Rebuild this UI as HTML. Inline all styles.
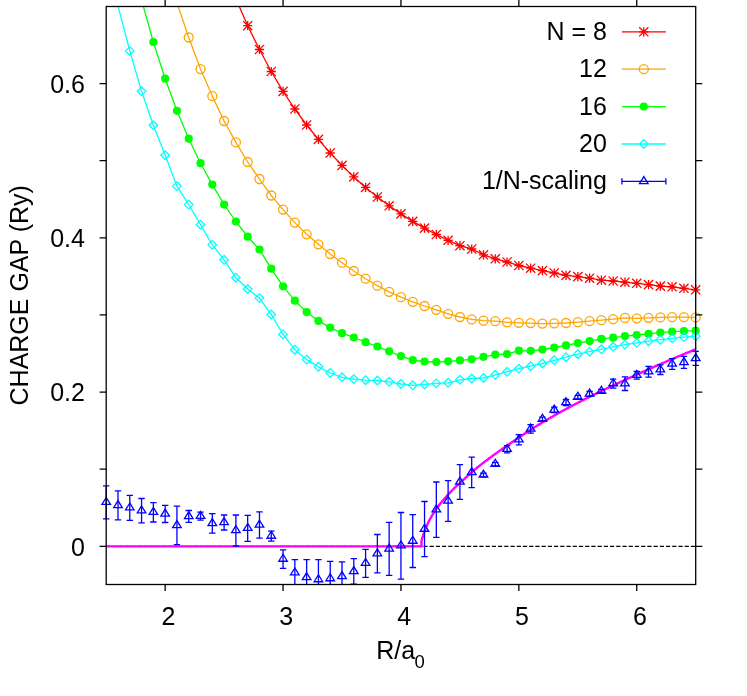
<!DOCTYPE html>
<html><head><meta charset="utf-8"><title>Charge gap</title>
<style>
html,body{margin:0;padding:0;background:#fff;}
body{width:747px;height:696px;overflow:hidden;}
svg{display:block;will-change:transform;}
text{font-family:"Liberation Sans",sans-serif;fill:#000;}
</style></head><body>
<svg width="747" height="696" viewBox="0 0 747 696">
<rect x="0" y="0" width="747" height="696" fill="#fff"/>
<defs><clipPath id="c"><rect x="106.2" y="6.5" width="589.5" height="578"/></clipPath></defs>
<line x1="106.2" y1="546.37" x2="695.7" y2="546.37" stroke="#000" stroke-width="1.3" stroke-dasharray="4.2 2.02"/>
<polyline clip-path="url(#c)" points="235.89,-1.3 247.68,25.7 259.47,49.5 271.26,71.5 283.05,91.4 294.84,109 306.63,125 318.42,139.4 330.21,153 342,165.4 353.79,176.9 365.58,187.4 377.37,197 389.16,205.8 400.95,213.9 412.74,221.4 424.53,228.1 436.32,234.5 448.11,240.3 459.9,245.7 471.69,249 483.48,254.8 495.27,258.8 507.06,262 518.85,265.5 530.64,268.2 542.43,270.6 554.22,273 566.01,275.4 577.8,276.6 589.59,278.2 601.38,280.2 613.17,281 624.96,282.2 636.75,283.3 648.54,284.6 660.33,286.1 672.12,286.8 683.91,288.3 695.7,289.8" fill="none" stroke="#ff0000" stroke-width="1.3" stroke-linejoin="round"/>
<path d="M243.08 25.7h9.2M247.68 21.1v9.2M243.08 21.1l9.2 9.2M243.08 30.3l9.2 -9.2" stroke="#ff0000" stroke-width="1.3" fill="none"/>
<path d="M254.87 49.5h9.2M259.47 44.9v9.2M254.87 44.9l9.2 9.2M254.87 54.1l9.2 -9.2" stroke="#ff0000" stroke-width="1.3" fill="none"/>
<path d="M266.66 71.5h9.2M271.26 66.9v9.2M266.66 66.9l9.2 9.2M266.66 76.1l9.2 -9.2" stroke="#ff0000" stroke-width="1.3" fill="none"/>
<path d="M278.45 91.4h9.2M283.05 86.8v9.2M278.45 86.8l9.2 9.2M278.45 96l9.2 -9.2" stroke="#ff0000" stroke-width="1.3" fill="none"/>
<path d="M290.24 109h9.2M294.84 104.4v9.2M290.24 104.4l9.2 9.2M290.24 113.6l9.2 -9.2" stroke="#ff0000" stroke-width="1.3" fill="none"/>
<path d="M302.03 125h9.2M306.63 120.4v9.2M302.03 120.4l9.2 9.2M302.03 129.6l9.2 -9.2" stroke="#ff0000" stroke-width="1.3" fill="none"/>
<path d="M313.82 139.4h9.2M318.42 134.8v9.2M313.82 134.8l9.2 9.2M313.82 144l9.2 -9.2" stroke="#ff0000" stroke-width="1.3" fill="none"/>
<path d="M325.61 153h9.2M330.21 148.4v9.2M325.61 148.4l9.2 9.2M325.61 157.6l9.2 -9.2" stroke="#ff0000" stroke-width="1.3" fill="none"/>
<path d="M337.4 165.4h9.2M342 160.8v9.2M337.4 160.8l9.2 9.2M337.4 170l9.2 -9.2" stroke="#ff0000" stroke-width="1.3" fill="none"/>
<path d="M349.19 176.9h9.2M353.79 172.3v9.2M349.19 172.3l9.2 9.2M349.19 181.5l9.2 -9.2" stroke="#ff0000" stroke-width="1.3" fill="none"/>
<path d="M360.98 187.4h9.2M365.58 182.8v9.2M360.98 182.8l9.2 9.2M360.98 192l9.2 -9.2" stroke="#ff0000" stroke-width="1.3" fill="none"/>
<path d="M372.77 197h9.2M377.37 192.4v9.2M372.77 192.4l9.2 9.2M372.77 201.6l9.2 -9.2" stroke="#ff0000" stroke-width="1.3" fill="none"/>
<path d="M384.56 205.8h9.2M389.16 201.2v9.2M384.56 201.2l9.2 9.2M384.56 210.4l9.2 -9.2" stroke="#ff0000" stroke-width="1.3" fill="none"/>
<path d="M396.35 213.9h9.2M400.95 209.3v9.2M396.35 209.3l9.2 9.2M396.35 218.5l9.2 -9.2" stroke="#ff0000" stroke-width="1.3" fill="none"/>
<path d="M408.14 221.4h9.2M412.74 216.8v9.2M408.14 216.8l9.2 9.2M408.14 226l9.2 -9.2" stroke="#ff0000" stroke-width="1.3" fill="none"/>
<path d="M419.93 228.1h9.2M424.53 223.5v9.2M419.93 223.5l9.2 9.2M419.93 232.7l9.2 -9.2" stroke="#ff0000" stroke-width="1.3" fill="none"/>
<path d="M431.72 234.5h9.2M436.32 229.9v9.2M431.72 229.9l9.2 9.2M431.72 239.1l9.2 -9.2" stroke="#ff0000" stroke-width="1.3" fill="none"/>
<path d="M443.51 240.3h9.2M448.11 235.7v9.2M443.51 235.7l9.2 9.2M443.51 244.9l9.2 -9.2" stroke="#ff0000" stroke-width="1.3" fill="none"/>
<path d="M455.3 245.7h9.2M459.9 241.1v9.2M455.3 241.1l9.2 9.2M455.3 250.3l9.2 -9.2" stroke="#ff0000" stroke-width="1.3" fill="none"/>
<path d="M467.09 249h9.2M471.69 244.4v9.2M467.09 244.4l9.2 9.2M467.09 253.6l9.2 -9.2" stroke="#ff0000" stroke-width="1.3" fill="none"/>
<path d="M478.88 254.8h9.2M483.48 250.2v9.2M478.88 250.2l9.2 9.2M478.88 259.4l9.2 -9.2" stroke="#ff0000" stroke-width="1.3" fill="none"/>
<path d="M490.67 258.8h9.2M495.27 254.2v9.2M490.67 254.2l9.2 9.2M490.67 263.4l9.2 -9.2" stroke="#ff0000" stroke-width="1.3" fill="none"/>
<path d="M502.46 262h9.2M507.06 257.4v9.2M502.46 257.4l9.2 9.2M502.46 266.6l9.2 -9.2" stroke="#ff0000" stroke-width="1.3" fill="none"/>
<path d="M514.25 265.5h9.2M518.85 260.9v9.2M514.25 260.9l9.2 9.2M514.25 270.1l9.2 -9.2" stroke="#ff0000" stroke-width="1.3" fill="none"/>
<path d="M526.04 268.2h9.2M530.64 263.6v9.2M526.04 263.6l9.2 9.2M526.04 272.8l9.2 -9.2" stroke="#ff0000" stroke-width="1.3" fill="none"/>
<path d="M537.83 270.6h9.2M542.43 266v9.2M537.83 266l9.2 9.2M537.83 275.2l9.2 -9.2" stroke="#ff0000" stroke-width="1.3" fill="none"/>
<path d="M549.62 273h9.2M554.22 268.4v9.2M549.62 268.4l9.2 9.2M549.62 277.6l9.2 -9.2" stroke="#ff0000" stroke-width="1.3" fill="none"/>
<path d="M561.41 275.4h9.2M566.01 270.8v9.2M561.41 270.8l9.2 9.2M561.41 280l9.2 -9.2" stroke="#ff0000" stroke-width="1.3" fill="none"/>
<path d="M573.2 276.6h9.2M577.8 272v9.2M573.2 272l9.2 9.2M573.2 281.2l9.2 -9.2" stroke="#ff0000" stroke-width="1.3" fill="none"/>
<path d="M584.99 278.2h9.2M589.59 273.6v9.2M584.99 273.6l9.2 9.2M584.99 282.8l9.2 -9.2" stroke="#ff0000" stroke-width="1.3" fill="none"/>
<path d="M596.78 280.2h9.2M601.38 275.6v9.2M596.78 275.6l9.2 9.2M596.78 284.8l9.2 -9.2" stroke="#ff0000" stroke-width="1.3" fill="none"/>
<path d="M608.57 281h9.2M613.17 276.4v9.2M608.57 276.4l9.2 9.2M608.57 285.6l9.2 -9.2" stroke="#ff0000" stroke-width="1.3" fill="none"/>
<path d="M620.36 282.2h9.2M624.96 277.6v9.2M620.36 277.6l9.2 9.2M620.36 286.8l9.2 -9.2" stroke="#ff0000" stroke-width="1.3" fill="none"/>
<path d="M632.15 283.3h9.2M636.75 278.7v9.2M632.15 278.7l9.2 9.2M632.15 287.9l9.2 -9.2" stroke="#ff0000" stroke-width="1.3" fill="none"/>
<path d="M643.94 284.6h9.2M648.54 280v9.2M643.94 280l9.2 9.2M643.94 289.2l9.2 -9.2" stroke="#ff0000" stroke-width="1.3" fill="none"/>
<path d="M655.73 286.1h9.2M660.33 281.5v9.2M655.73 281.5l9.2 9.2M655.73 290.7l9.2 -9.2" stroke="#ff0000" stroke-width="1.3" fill="none"/>
<path d="M667.52 286.8h9.2M672.12 282.2v9.2M667.52 282.2l9.2 9.2M667.52 291.4l9.2 -9.2" stroke="#ff0000" stroke-width="1.3" fill="none"/>
<path d="M679.31 288.3h9.2M683.91 283.7v9.2M679.31 283.7l9.2 9.2M679.31 292.9l9.2 -9.2" stroke="#ff0000" stroke-width="1.3" fill="none"/>
<path d="M691.1 289.8h9.2M695.7 285.2v9.2M691.1 285.2l9.2 9.2M691.1 294.4l9.2 -9.2" stroke="#ff0000" stroke-width="1.3" fill="none"/>
<polyline clip-path="url(#c)" points="176.94,2.7 188.73,37.5 200.52,69.1 212.31,96.1 224.1,121 235.89,142.4 247.68,162 259.47,179 271.26,195.5 283.05,209.6 294.84,222.6 306.63,234.3 318.42,244.3 330.21,254 342,262.7 353.79,271 365.58,278.7 377.37,285.7 389.16,291.8 400.95,297.2 412.74,301.8 424.53,306 436.32,309.8 448.11,313.8 459.9,317 471.69,319.4 483.48,320.7 495.27,321.2 507.06,322.3 518.85,322.8 530.64,323.1 542.43,323.6 554.22,323.3 566.01,323 577.8,322.2 589.59,321.2 601.38,320.2 613.17,319.2 624.96,317.9 636.75,318.3 648.54,317.8 660.33,317.4 672.12,317.2 683.91,317.2 695.7,317.4" fill="none" stroke="#ffa500" stroke-width="1.3" stroke-linejoin="round"/>
<circle cx="188.73" cy="37.5" r="4.5" stroke="#ffa500" stroke-width="1.3" fill="none"/>
<circle cx="200.52" cy="69.1" r="4.5" stroke="#ffa500" stroke-width="1.3" fill="none"/>
<circle cx="212.31" cy="96.1" r="4.5" stroke="#ffa500" stroke-width="1.3" fill="none"/>
<circle cx="224.1" cy="121" r="4.5" stroke="#ffa500" stroke-width="1.3" fill="none"/>
<circle cx="235.89" cy="142.4" r="4.5" stroke="#ffa500" stroke-width="1.3" fill="none"/>
<circle cx="247.68" cy="162" r="4.5" stroke="#ffa500" stroke-width="1.3" fill="none"/>
<circle cx="259.47" cy="179" r="4.5" stroke="#ffa500" stroke-width="1.3" fill="none"/>
<circle cx="271.26" cy="195.5" r="4.5" stroke="#ffa500" stroke-width="1.3" fill="none"/>
<circle cx="283.05" cy="209.6" r="4.5" stroke="#ffa500" stroke-width="1.3" fill="none"/>
<circle cx="294.84" cy="222.6" r="4.5" stroke="#ffa500" stroke-width="1.3" fill="none"/>
<circle cx="306.63" cy="234.3" r="4.5" stroke="#ffa500" stroke-width="1.3" fill="none"/>
<circle cx="318.42" cy="244.3" r="4.5" stroke="#ffa500" stroke-width="1.3" fill="none"/>
<circle cx="330.21" cy="254" r="4.5" stroke="#ffa500" stroke-width="1.3" fill="none"/>
<circle cx="342" cy="262.7" r="4.5" stroke="#ffa500" stroke-width="1.3" fill="none"/>
<circle cx="353.79" cy="271" r="4.5" stroke="#ffa500" stroke-width="1.3" fill="none"/>
<circle cx="365.58" cy="278.7" r="4.5" stroke="#ffa500" stroke-width="1.3" fill="none"/>
<circle cx="377.37" cy="285.7" r="4.5" stroke="#ffa500" stroke-width="1.3" fill="none"/>
<circle cx="389.16" cy="291.8" r="4.5" stroke="#ffa500" stroke-width="1.3" fill="none"/>
<circle cx="400.95" cy="297.2" r="4.5" stroke="#ffa500" stroke-width="1.3" fill="none"/>
<circle cx="412.74" cy="301.8" r="4.5" stroke="#ffa500" stroke-width="1.3" fill="none"/>
<circle cx="424.53" cy="306" r="4.5" stroke="#ffa500" stroke-width="1.3" fill="none"/>
<circle cx="436.32" cy="309.8" r="4.5" stroke="#ffa500" stroke-width="1.3" fill="none"/>
<circle cx="448.11" cy="313.8" r="4.5" stroke="#ffa500" stroke-width="1.3" fill="none"/>
<circle cx="459.9" cy="317" r="4.5" stroke="#ffa500" stroke-width="1.3" fill="none"/>
<circle cx="471.69" cy="319.4" r="4.5" stroke="#ffa500" stroke-width="1.3" fill="none"/>
<circle cx="483.48" cy="320.7" r="4.5" stroke="#ffa500" stroke-width="1.3" fill="none"/>
<circle cx="495.27" cy="321.2" r="4.5" stroke="#ffa500" stroke-width="1.3" fill="none"/>
<circle cx="507.06" cy="322.3" r="4.5" stroke="#ffa500" stroke-width="1.3" fill="none"/>
<circle cx="518.85" cy="322.8" r="4.5" stroke="#ffa500" stroke-width="1.3" fill="none"/>
<circle cx="530.64" cy="323.1" r="4.5" stroke="#ffa500" stroke-width="1.3" fill="none"/>
<circle cx="542.43" cy="323.6" r="4.5" stroke="#ffa500" stroke-width="1.3" fill="none"/>
<circle cx="554.22" cy="323.3" r="4.5" stroke="#ffa500" stroke-width="1.3" fill="none"/>
<circle cx="566.01" cy="323" r="4.5" stroke="#ffa500" stroke-width="1.3" fill="none"/>
<circle cx="577.8" cy="322.2" r="4.5" stroke="#ffa500" stroke-width="1.3" fill="none"/>
<circle cx="589.59" cy="321.2" r="4.5" stroke="#ffa500" stroke-width="1.3" fill="none"/>
<circle cx="601.38" cy="320.2" r="4.5" stroke="#ffa500" stroke-width="1.3" fill="none"/>
<circle cx="613.17" cy="319.2" r="4.5" stroke="#ffa500" stroke-width="1.3" fill="none"/>
<circle cx="624.96" cy="317.9" r="4.5" stroke="#ffa500" stroke-width="1.3" fill="none"/>
<circle cx="636.75" cy="318.3" r="4.5" stroke="#ffa500" stroke-width="1.3" fill="none"/>
<circle cx="648.54" cy="317.8" r="4.5" stroke="#ffa500" stroke-width="1.3" fill="none"/>
<circle cx="660.33" cy="317.4" r="4.5" stroke="#ffa500" stroke-width="1.3" fill="none"/>
<circle cx="672.12" cy="317.2" r="4.5" stroke="#ffa500" stroke-width="1.3" fill="none"/>
<circle cx="683.91" cy="317.2" r="4.5" stroke="#ffa500" stroke-width="1.3" fill="none"/>
<circle cx="695.7" cy="317.4" r="4.5" stroke="#ffa500" stroke-width="1.3" fill="none"/>
<polyline clip-path="url(#c)" points="141.57,0 153.36,42 165.15,78.7 176.94,110.8 188.73,138.7 200.52,163.2 212.31,184.6 224.1,204.6 235.89,221.5 247.68,236.7 259.47,249.6 271.26,268.7 283.05,286.3 294.84,300.7 306.63,312.1 318.42,320.9 330.21,327.6 342,333.2 353.79,337.5 365.58,342.2 377.37,346.5 389.16,351.3 400.95,356.1 412.74,360.1 424.53,361.5 436.32,362 448.11,361.3 459.9,360.4 471.69,359.3 483.48,356.8 495.27,354.7 507.06,354 518.85,350.7 530.64,350.8 542.43,349.5 554.22,347.5 566.01,345.4 577.8,343 589.59,341.1 601.38,338.9 613.17,337.7 624.96,336.1 636.75,335 648.54,333.9 660.33,332.6 672.12,331.7 683.91,331.1 695.7,330.7" fill="none" stroke="#00ff00" stroke-width="1.3" stroke-linejoin="round"/>
<circle cx="153.36" cy="42" r="4.1" fill="#00ff00"/>
<circle cx="165.15" cy="78.7" r="4.1" fill="#00ff00"/>
<circle cx="176.94" cy="110.8" r="4.1" fill="#00ff00"/>
<circle cx="188.73" cy="138.7" r="4.1" fill="#00ff00"/>
<circle cx="200.52" cy="163.2" r="4.1" fill="#00ff00"/>
<circle cx="212.31" cy="184.6" r="4.1" fill="#00ff00"/>
<circle cx="224.1" cy="204.6" r="4.1" fill="#00ff00"/>
<circle cx="235.89" cy="221.5" r="4.1" fill="#00ff00"/>
<circle cx="247.68" cy="236.7" r="4.1" fill="#00ff00"/>
<circle cx="259.47" cy="249.6" r="4.1" fill="#00ff00"/>
<circle cx="271.26" cy="268.7" r="4.1" fill="#00ff00"/>
<circle cx="283.05" cy="286.3" r="4.1" fill="#00ff00"/>
<circle cx="294.84" cy="300.7" r="4.1" fill="#00ff00"/>
<circle cx="306.63" cy="312.1" r="4.1" fill="#00ff00"/>
<circle cx="318.42" cy="320.9" r="4.1" fill="#00ff00"/>
<circle cx="330.21" cy="327.6" r="4.1" fill="#00ff00"/>
<circle cx="342" cy="333.2" r="4.1" fill="#00ff00"/>
<circle cx="353.79" cy="337.5" r="4.1" fill="#00ff00"/>
<circle cx="365.58" cy="342.2" r="4.1" fill="#00ff00"/>
<circle cx="377.37" cy="346.5" r="4.1" fill="#00ff00"/>
<circle cx="389.16" cy="351.3" r="4.1" fill="#00ff00"/>
<circle cx="400.95" cy="356.1" r="4.1" fill="#00ff00"/>
<circle cx="412.74" cy="360.1" r="4.1" fill="#00ff00"/>
<circle cx="424.53" cy="361.5" r="4.1" fill="#00ff00"/>
<circle cx="436.32" cy="362" r="4.1" fill="#00ff00"/>
<circle cx="448.11" cy="361.3" r="4.1" fill="#00ff00"/>
<circle cx="459.9" cy="360.4" r="4.1" fill="#00ff00"/>
<circle cx="471.69" cy="359.3" r="4.1" fill="#00ff00"/>
<circle cx="483.48" cy="356.8" r="4.1" fill="#00ff00"/>
<circle cx="495.27" cy="354.7" r="4.1" fill="#00ff00"/>
<circle cx="507.06" cy="354" r="4.1" fill="#00ff00"/>
<circle cx="518.85" cy="350.7" r="4.1" fill="#00ff00"/>
<circle cx="530.64" cy="350.8" r="4.1" fill="#00ff00"/>
<circle cx="542.43" cy="349.5" r="4.1" fill="#00ff00"/>
<circle cx="554.22" cy="347.5" r="4.1" fill="#00ff00"/>
<circle cx="566.01" cy="345.4" r="4.1" fill="#00ff00"/>
<circle cx="577.8" cy="343" r="4.1" fill="#00ff00"/>
<circle cx="589.59" cy="341.1" r="4.1" fill="#00ff00"/>
<circle cx="601.38" cy="338.9" r="4.1" fill="#00ff00"/>
<circle cx="613.17" cy="337.7" r="4.1" fill="#00ff00"/>
<circle cx="624.96" cy="336.1" r="4.1" fill="#00ff00"/>
<circle cx="636.75" cy="335" r="4.1" fill="#00ff00"/>
<circle cx="648.54" cy="333.9" r="4.1" fill="#00ff00"/>
<circle cx="660.33" cy="332.6" r="4.1" fill="#00ff00"/>
<circle cx="672.12" cy="331.7" r="4.1" fill="#00ff00"/>
<circle cx="683.91" cy="331.1" r="4.1" fill="#00ff00"/>
<circle cx="695.7" cy="330.7" r="4.1" fill="#00ff00"/>
<polyline clip-path="url(#c)" points="106.2,-45 117.99,5.7 129.78,50.9 141.57,91.3 153.36,125.3 165.15,155.2 176.94,186.1 188.73,204.6 200.52,224.7 212.31,244.8 224.1,259.8 235.89,277.7 247.68,289 259.47,298.1 271.26,314.5 283.05,334.4 294.84,349.7 306.63,359.6 318.42,366.8 330.21,373 342,377.3 353.79,379.1 365.58,380.2 377.37,380.5 389.16,381.8 400.95,384 412.74,385.3 424.53,384.5 436.32,383.4 448.11,382.8 459.9,379.8 471.69,378.5 483.48,378 495.27,374.8 507.06,371.8 518.85,368.6 530.64,366.2 542.43,363.5 554.22,360.3 566.01,357.2 577.8,354.2 589.59,351.7 601.38,349.3 613.17,346.8 624.96,344.6 636.75,342.9 648.54,341.2 660.33,339.7 672.12,338.4 683.91,337.1 695.7,336.2" fill="none" stroke="#00ffff" stroke-width="1.3" stroke-linejoin="round"/>
<path d="M129.78 46.6l4.3 4.3l-4.3 4.3l-4.3 -4.3z" stroke="#00ffff" stroke-width="1.3" fill="none"/>
<path d="M141.57 87l4.3 4.3l-4.3 4.3l-4.3 -4.3z" stroke="#00ffff" stroke-width="1.3" fill="none"/>
<path d="M153.36 121l4.3 4.3l-4.3 4.3l-4.3 -4.3z" stroke="#00ffff" stroke-width="1.3" fill="none"/>
<path d="M165.15 150.9l4.3 4.3l-4.3 4.3l-4.3 -4.3z" stroke="#00ffff" stroke-width="1.3" fill="none"/>
<path d="M176.94 181.8l4.3 4.3l-4.3 4.3l-4.3 -4.3z" stroke="#00ffff" stroke-width="1.3" fill="none"/>
<path d="M188.73 200.3l4.3 4.3l-4.3 4.3l-4.3 -4.3z" stroke="#00ffff" stroke-width="1.3" fill="none"/>
<path d="M200.52 220.4l4.3 4.3l-4.3 4.3l-4.3 -4.3z" stroke="#00ffff" stroke-width="1.3" fill="none"/>
<path d="M212.31 240.5l4.3 4.3l-4.3 4.3l-4.3 -4.3z" stroke="#00ffff" stroke-width="1.3" fill="none"/>
<path d="M224.1 255.5l4.3 4.3l-4.3 4.3l-4.3 -4.3z" stroke="#00ffff" stroke-width="1.3" fill="none"/>
<path d="M235.89 273.4l4.3 4.3l-4.3 4.3l-4.3 -4.3z" stroke="#00ffff" stroke-width="1.3" fill="none"/>
<path d="M247.68 284.7l4.3 4.3l-4.3 4.3l-4.3 -4.3z" stroke="#00ffff" stroke-width="1.3" fill="none"/>
<path d="M259.47 293.8l4.3 4.3l-4.3 4.3l-4.3 -4.3z" stroke="#00ffff" stroke-width="1.3" fill="none"/>
<path d="M271.26 310.2l4.3 4.3l-4.3 4.3l-4.3 -4.3z" stroke="#00ffff" stroke-width="1.3" fill="none"/>
<path d="M283.05 330.1l4.3 4.3l-4.3 4.3l-4.3 -4.3z" stroke="#00ffff" stroke-width="1.3" fill="none"/>
<path d="M294.84 345.4l4.3 4.3l-4.3 4.3l-4.3 -4.3z" stroke="#00ffff" stroke-width="1.3" fill="none"/>
<path d="M306.63 355.3l4.3 4.3l-4.3 4.3l-4.3 -4.3z" stroke="#00ffff" stroke-width="1.3" fill="none"/>
<path d="M318.42 362.5l4.3 4.3l-4.3 4.3l-4.3 -4.3z" stroke="#00ffff" stroke-width="1.3" fill="none"/>
<path d="M330.21 368.7l4.3 4.3l-4.3 4.3l-4.3 -4.3z" stroke="#00ffff" stroke-width="1.3" fill="none"/>
<path d="M342 373l4.3 4.3l-4.3 4.3l-4.3 -4.3z" stroke="#00ffff" stroke-width="1.3" fill="none"/>
<path d="M353.79 374.8l4.3 4.3l-4.3 4.3l-4.3 -4.3z" stroke="#00ffff" stroke-width="1.3" fill="none"/>
<path d="M365.58 375.9l4.3 4.3l-4.3 4.3l-4.3 -4.3z" stroke="#00ffff" stroke-width="1.3" fill="none"/>
<path d="M377.37 376.2l4.3 4.3l-4.3 4.3l-4.3 -4.3z" stroke="#00ffff" stroke-width="1.3" fill="none"/>
<path d="M389.16 377.5l4.3 4.3l-4.3 4.3l-4.3 -4.3z" stroke="#00ffff" stroke-width="1.3" fill="none"/>
<path d="M400.95 379.7l4.3 4.3l-4.3 4.3l-4.3 -4.3z" stroke="#00ffff" stroke-width="1.3" fill="none"/>
<path d="M412.74 381l4.3 4.3l-4.3 4.3l-4.3 -4.3z" stroke="#00ffff" stroke-width="1.3" fill="none"/>
<path d="M424.53 380.2l4.3 4.3l-4.3 4.3l-4.3 -4.3z" stroke="#00ffff" stroke-width="1.3" fill="none"/>
<path d="M436.32 379.1l4.3 4.3l-4.3 4.3l-4.3 -4.3z" stroke="#00ffff" stroke-width="1.3" fill="none"/>
<path d="M448.11 378.5l4.3 4.3l-4.3 4.3l-4.3 -4.3z" stroke="#00ffff" stroke-width="1.3" fill="none"/>
<path d="M459.9 375.5l4.3 4.3l-4.3 4.3l-4.3 -4.3z" stroke="#00ffff" stroke-width="1.3" fill="none"/>
<path d="M471.69 374.2l4.3 4.3l-4.3 4.3l-4.3 -4.3z" stroke="#00ffff" stroke-width="1.3" fill="none"/>
<path d="M483.48 373.7l4.3 4.3l-4.3 4.3l-4.3 -4.3z" stroke="#00ffff" stroke-width="1.3" fill="none"/>
<path d="M495.27 370.5l4.3 4.3l-4.3 4.3l-4.3 -4.3z" stroke="#00ffff" stroke-width="1.3" fill="none"/>
<path d="M507.06 367.5l4.3 4.3l-4.3 4.3l-4.3 -4.3z" stroke="#00ffff" stroke-width="1.3" fill="none"/>
<path d="M518.85 364.3l4.3 4.3l-4.3 4.3l-4.3 -4.3z" stroke="#00ffff" stroke-width="1.3" fill="none"/>
<path d="M530.64 361.9l4.3 4.3l-4.3 4.3l-4.3 -4.3z" stroke="#00ffff" stroke-width="1.3" fill="none"/>
<path d="M542.43 359.2l4.3 4.3l-4.3 4.3l-4.3 -4.3z" stroke="#00ffff" stroke-width="1.3" fill="none"/>
<path d="M554.22 356l4.3 4.3l-4.3 4.3l-4.3 -4.3z" stroke="#00ffff" stroke-width="1.3" fill="none"/>
<path d="M566.01 352.9l4.3 4.3l-4.3 4.3l-4.3 -4.3z" stroke="#00ffff" stroke-width="1.3" fill="none"/>
<path d="M577.8 349.9l4.3 4.3l-4.3 4.3l-4.3 -4.3z" stroke="#00ffff" stroke-width="1.3" fill="none"/>
<path d="M589.59 347.4l4.3 4.3l-4.3 4.3l-4.3 -4.3z" stroke="#00ffff" stroke-width="1.3" fill="none"/>
<path d="M601.38 345l4.3 4.3l-4.3 4.3l-4.3 -4.3z" stroke="#00ffff" stroke-width="1.3" fill="none"/>
<path d="M613.17 342.5l4.3 4.3l-4.3 4.3l-4.3 -4.3z" stroke="#00ffff" stroke-width="1.3" fill="none"/>
<path d="M624.96 340.3l4.3 4.3l-4.3 4.3l-4.3 -4.3z" stroke="#00ffff" stroke-width="1.3" fill="none"/>
<path d="M636.75 338.6l4.3 4.3l-4.3 4.3l-4.3 -4.3z" stroke="#00ffff" stroke-width="1.3" fill="none"/>
<path d="M648.54 336.9l4.3 4.3l-4.3 4.3l-4.3 -4.3z" stroke="#00ffff" stroke-width="1.3" fill="none"/>
<path d="M660.33 335.4l4.3 4.3l-4.3 4.3l-4.3 -4.3z" stroke="#00ffff" stroke-width="1.3" fill="none"/>
<path d="M672.12 334.1l4.3 4.3l-4.3 4.3l-4.3 -4.3z" stroke="#00ffff" stroke-width="1.3" fill="none"/>
<path d="M683.91 332.8l4.3 4.3l-4.3 4.3l-4.3 -4.3z" stroke="#00ffff" stroke-width="1.3" fill="none"/>
<path d="M695.7 331.9l4.3 4.3l-4.3 4.3l-4.3 -4.3z" stroke="#00ffff" stroke-width="1.3" fill="none"/>
<polyline clip-path="url(#c)" points="106.2,546.37 421.5,546.37 421.5,540.78 421.52,540.7 421.54,540.59 421.58,540.43 421.62,540.23 421.67,540 421.73,539.74 421.8,539.45 421.89,539.14 421.98,538.82 422.08,538.47 422.19,538.12 422.3,537.76 422.43,537.39 422.57,537.01 422.72,536.63 422.88,536.13 423.04,535.58 423.22,535.02 423.4,534.44 423.6,533.86 423.8,533.28 424.02,532.68 424.24,532.08 424.48,531.47 424.72,530.82 424.97,530.14 425.23,529.45 425.5,528.76 425.78,528.07 426.07,527.36 426.37,526.66 426.68,525.94 427,525.22 427.33,524.5 427.67,523.77 428.02,523.03 428.37,522.29 428.74,521.55 429.12,520.8 429.5,520.05 429.9,519.3 430.3,518.54 430.72,517.79 431.14,517.05 431.57,516.31 432.02,515.56 432.47,514.81 432.93,514.06 433.4,513.31 433.88,512.55 434.37,511.79 434.87,511.03 435.38,510.26 435.9,509.5 436.43,508.75 436.97,508 437.51,507.25 438.07,506.5 438.64,505.75 439.21,504.99 439.8,504.23 440.39,503.47 441,502.71 441.61,501.95 442.24,501.18 442.87,500.44 443.51,499.69 444.16,498.95 444.83,498.2 445.5,497.45 446.18,496.7 446.87,495.94 447.57,495.19 448.28,494.43 449,493.65 449.72,492.87 450.46,492.08 451.21,491.3 451.97,490.51 452.73,489.73 453.51,488.94 454.29,488.16 455.09,487.4 455.89,486.63 456.71,485.87 457.53,485.1 458.36,484.33 459.21,483.56 460.06,482.79 460.92,481.99 461.79,481.19 462.67,480.39 463.56,479.59 464.46,478.78 465.37,477.98 466.29,477.15 467.22,476.3 468.16,475.46 469.1,474.61 470.06,473.76 471.03,472.91 472,472.05 472.99,471.2 473.98,470.34 474.99,469.48 476,468.63 477.03,467.76 478.06,466.92 479.1,466.09 480.15,465.26 481.21,464.43 482.29,463.59 483.37,462.76 484.46,461.93 485.56,461.09 486.67,460.25 487.78,459.42 488.91,458.58 490.05,457.74 491.2,456.9 492.35,456.06 493.52,455.21 494.7,454.35 495.88,453.49 497.08,452.63 498.28,451.77 499.49,450.9 500.72,450.04 501.95,449.18 503.19,448.31 504.45,447.44 505.71,446.57 506.98,445.71 508.26,444.8 509.55,443.9 510.85,442.99 512.16,442.08 513.48,441.17 514.8,440.26 516.14,439.35 517.49,438.44 518.85,437.53 520.21,436.6 521.59,435.67 522.97,434.74 524.37,433.81 525.77,432.88 527.19,431.95 528.61,431.02 530.04,430.08 531.48,429.14 532.94,428.21 534.4,427.31 535.87,426.41 537.35,425.51 538.84,424.61 540.34,423.71 541.85,422.81 543.37,421.91 544.89,421 546.43,420.1 547.98,419.19 549.54,418.28 551.1,417.37 552.68,416.46 554.26,415.55 555.86,414.64 557.46,413.73 559.08,412.81 560.7,411.91 562.33,411.02 563.97,410.13 565.63,409.24 567.29,408.34 568.96,407.45 570.64,406.56 572.33,405.66 574.03,404.77 575.74,403.87 577.46,402.98 579.18,402.09 580.92,401.2 582.67,400.31 584.43,399.43 586.19,398.54 587.97,397.65 589.75,396.76 591.55,395.87 593.35,394.98 595.16,394.09 596.99,393.2 598.82,392.3 600.66,391.41 602.51,390.52 604.38,389.62 606.25,388.73 608.13,387.83 610.02,386.93 611.92,386.03 613.83,385.13 615.74,384.22 617.67,383.32 619.61,382.41 621.56,381.51 623.51,380.6 625.48,379.69 627.45,378.79 629.44,377.88 631.43,376.97 633.44,376.06 635.45,375.15 637.48,374.24 639.51,373.33 641.55,372.42 643.6,371.5 645.66,370.58 647.73,369.65 649.81,368.73 651.9,367.81 654,366.89 656.11,365.96 658.23,365.04 660.36,364.11 662.5,363.19 664.64,362.26 666.8,361.34 668.97,360.41 671.14,359.48 673.33,358.55 675.52,357.62 677.72,356.69 679.94,355.76 682.16,354.83 684.39,353.9 686.64,352.97 688.89,352.04 691.15,351.11 693.42,350.17 695.7,349.24" fill="none" stroke="#ff00ff" stroke-width="2.4" stroke-linejoin="miter"/>
<path d="M106.2 485.8V518.8M103 485.8h6.4M103 518.8h6.4" stroke="#0000ff" stroke-width="1.3" fill="none"/>
<path d="M106.2 497.48l-4.3 6.97h8.6z" stroke="#0000ff" stroke-width="1.3" fill="none"/>
<path d="M117.99 490.9V519.9M114.79 490.9h6.4M114.79 519.9h6.4" stroke="#0000ff" stroke-width="1.3" fill="none"/>
<path d="M117.99 500.58l-4.3 6.97h8.6z" stroke="#0000ff" stroke-width="1.3" fill="none"/>
<path d="M129.78 495.3V520.3M126.58 495.3h6.4M126.58 520.3h6.4" stroke="#0000ff" stroke-width="1.3" fill="none"/>
<path d="M129.78 502.98l-4.3 6.97h8.6z" stroke="#0000ff" stroke-width="1.3" fill="none"/>
<path d="M141.57 498.5V522.9M138.37 498.5h6.4M138.37 522.9h6.4" stroke="#0000ff" stroke-width="1.3" fill="none"/>
<path d="M141.57 505.88l-4.3 6.97h8.6z" stroke="#0000ff" stroke-width="1.3" fill="none"/>
<path d="M153.36 502.6V522M150.16 502.6h6.4M150.16 522h6.4" stroke="#0000ff" stroke-width="1.3" fill="none"/>
<path d="M153.36 507.48l-4.3 6.97h8.6z" stroke="#0000ff" stroke-width="1.3" fill="none"/>
<path d="M165.15 505.3V522.5M161.95 505.3h6.4M161.95 522.5h6.4" stroke="#0000ff" stroke-width="1.3" fill="none"/>
<path d="M165.15 509.08l-4.3 6.97h8.6z" stroke="#0000ff" stroke-width="1.3" fill="none"/>
<path d="M176.94 506.1V544.7M173.74 506.1h6.4M173.74 544.7h6.4" stroke="#0000ff" stroke-width="1.3" fill="none"/>
<path d="M176.94 520.58l-4.3 6.97h8.6z" stroke="#0000ff" stroke-width="1.3" fill="none"/>
<path d="M188.73 510.5V522.3M185.53 510.5h6.4M185.53 522.3h6.4" stroke="#0000ff" stroke-width="1.3" fill="none"/>
<path d="M188.73 511.58l-4.3 6.97h8.6z" stroke="#0000ff" stroke-width="1.3" fill="none"/>
<path d="M200.52 512.2V520.2M197.32 512.2h6.4M197.32 520.2h6.4" stroke="#0000ff" stroke-width="1.3" fill="none"/>
<path d="M200.52 511.38l-4.3 6.97h8.6z" stroke="#0000ff" stroke-width="1.3" fill="none"/>
<path d="M212.31 513.7V533.1M209.11 513.7h6.4M209.11 533.1h6.4" stroke="#0000ff" stroke-width="1.3" fill="none"/>
<path d="M212.31 518.58l-4.3 6.97h8.6z" stroke="#0000ff" stroke-width="1.3" fill="none"/>
<path d="M224.1 515V530M220.9 515h6.4M220.9 530h6.4" stroke="#0000ff" stroke-width="1.3" fill="none"/>
<path d="M224.1 517.68l-4.3 6.97h8.6z" stroke="#0000ff" stroke-width="1.3" fill="none"/>
<path d="M235.89 515V546M232.69 515h6.4M232.69 546h6.4" stroke="#0000ff" stroke-width="1.3" fill="none"/>
<path d="M235.89 525.68l-4.3 6.97h8.6z" stroke="#0000ff" stroke-width="1.3" fill="none"/>
<path d="M247.68 515.3V541.3M244.48 515.3h6.4M244.48 541.3h6.4" stroke="#0000ff" stroke-width="1.3" fill="none"/>
<path d="M247.68 523.48l-4.3 6.97h8.6z" stroke="#0000ff" stroke-width="1.3" fill="none"/>
<path d="M259.47 511.8V538.2M256.27 511.8h6.4M256.27 538.2h6.4" stroke="#0000ff" stroke-width="1.3" fill="none"/>
<path d="M259.47 520.18l-4.3 6.97h8.6z" stroke="#0000ff" stroke-width="1.3" fill="none"/>
<path d="M271.26 531.1V541.1M268.06 531.1h6.4M268.06 541.1h6.4" stroke="#0000ff" stroke-width="1.3" fill="none"/>
<path d="M271.26 531.28l-4.3 6.97h8.6z" stroke="#0000ff" stroke-width="1.3" fill="none"/>
<path d="M283.05 549.9V568.3M279.85 549.9h6.4M279.85 568.3h6.4" stroke="#0000ff" stroke-width="1.3" fill="none"/>
<path d="M283.05 554.28l-4.3 6.97h8.6z" stroke="#0000ff" stroke-width="1.3" fill="none"/>
<path d="M294.84 559.7V584.5M291.64 559.7h6.4" stroke="#0000ff" stroke-width="1.3" fill="none"/>
<path d="M294.84 567.98l-4.3 6.97h8.6z" stroke="#0000ff" stroke-width="1.3" fill="none"/>
<path d="M306.63 559.7V584.5M303.43 559.7h6.4" stroke="#0000ff" stroke-width="1.3" fill="none"/>
<path d="M306.63 572.68l-4.3 6.97h8.6z" stroke="#0000ff" stroke-width="1.3" fill="none"/>
<path d="M318.42 559.7V584.5M315.22 559.7h6.4" stroke="#0000ff" stroke-width="1.3" fill="none"/>
<path d="M318.42 574.78l-4.3 6.97h8.6z" stroke="#0000ff" stroke-width="1.3" fill="none"/>
<path d="M330.21 561.4V584.5M327.01 561.4h6.4" stroke="#0000ff" stroke-width="1.3" fill="none"/>
<path d="M330.21 573.78l-4.3 6.97h8.6z" stroke="#0000ff" stroke-width="1.3" fill="none"/>
<path d="M342 561.9V584.5M338.8 561.9h6.4" stroke="#0000ff" stroke-width="1.3" fill="none"/>
<path d="M342 571.58l-4.3 6.97h8.6z" stroke="#0000ff" stroke-width="1.3" fill="none"/>
<path d="M353.79 558.6V584.2M350.59 558.6h6.4M350.59 584.2h6.4" stroke="#0000ff" stroke-width="1.3" fill="none"/>
<path d="M353.79 566.58l-4.3 6.97h8.6z" stroke="#0000ff" stroke-width="1.3" fill="none"/>
<path d="M365.58 549.3V577.3M362.38 549.3h6.4M362.38 577.3h6.4" stroke="#0000ff" stroke-width="1.3" fill="none"/>
<path d="M365.58 558.48l-4.3 6.97h8.6z" stroke="#0000ff" stroke-width="1.3" fill="none"/>
<path d="M377.37 534.5V572.9M374.17 534.5h6.4M374.17 572.9h6.4" stroke="#0000ff" stroke-width="1.3" fill="none"/>
<path d="M377.37 548.88l-4.3 6.97h8.6z" stroke="#0000ff" stroke-width="1.3" fill="none"/>
<path d="M389.16 522.4V575.4M385.96 522.4h6.4M385.96 575.4h6.4" stroke="#0000ff" stroke-width="1.3" fill="none"/>
<path d="M389.16 544.08l-4.3 6.97h8.6z" stroke="#0000ff" stroke-width="1.3" fill="none"/>
<path d="M400.95 512.5V579.1M397.75 512.5h6.4M397.75 579.1h6.4" stroke="#0000ff" stroke-width="1.3" fill="none"/>
<path d="M400.95 540.98l-4.3 6.97h8.6z" stroke="#0000ff" stroke-width="1.3" fill="none"/>
<path d="M412.74 514.7V567.5M409.54 514.7h6.4M409.54 567.5h6.4" stroke="#0000ff" stroke-width="1.3" fill="none"/>
<path d="M412.74 536.28l-4.3 6.97h8.6z" stroke="#0000ff" stroke-width="1.3" fill="none"/>
<path d="M424.53 501.5V556.7M421.33 501.5h6.4M421.33 556.7h6.4" stroke="#0000ff" stroke-width="1.3" fill="none"/>
<path d="M424.53 524.28l-4.3 6.97h8.6z" stroke="#0000ff" stroke-width="1.3" fill="none"/>
<path d="M436.32 482V537.4M433.12 482h6.4M433.12 537.4h6.4" stroke="#0000ff" stroke-width="1.3" fill="none"/>
<path d="M436.32 504.88l-4.3 6.97h8.6z" stroke="#0000ff" stroke-width="1.3" fill="none"/>
<path d="M448.11 480.7V521.3M444.91 480.7h6.4M444.91 521.3h6.4" stroke="#0000ff" stroke-width="1.3" fill="none"/>
<path d="M448.11 496.18l-4.3 6.97h8.6z" stroke="#0000ff" stroke-width="1.3" fill="none"/>
<path d="M459.9 464.7V499.3M456.7 464.7h6.4M456.7 499.3h6.4" stroke="#0000ff" stroke-width="1.3" fill="none"/>
<path d="M459.9 477.18l-4.3 6.97h8.6z" stroke="#0000ff" stroke-width="1.3" fill="none"/>
<path d="M471.69 457.1V487.7M468.49 457.1h6.4M468.49 487.7h6.4" stroke="#0000ff" stroke-width="1.3" fill="none"/>
<path d="M471.69 467.58l-4.3 6.97h8.6z" stroke="#0000ff" stroke-width="1.3" fill="none"/>
<path d="M483.48 473.05V476.95M480.28 473.05h6.4M480.28 476.95h6.4" stroke="#0000ff" stroke-width="1.3" fill="none"/>
<path d="M483.48 470.18l-4.3 6.97h8.6z" stroke="#0000ff" stroke-width="1.3" fill="none"/>
<path d="M495.27 462.3V465.9M492.07 462.3h6.4M492.07 465.9h6.4" stroke="#0000ff" stroke-width="1.3" fill="none"/>
<path d="M495.27 459.28l-4.3 6.97h8.6z" stroke="#0000ff" stroke-width="1.3" fill="none"/>
<path d="M507.06 445.65V452.95M503.86 445.65h6.4M503.86 452.95h6.4" stroke="#0000ff" stroke-width="1.3" fill="none"/>
<path d="M507.06 444.48l-4.3 6.97h8.6z" stroke="#0000ff" stroke-width="1.3" fill="none"/>
<path d="M518.85 434.6V444.8M515.65 434.6h6.4M515.65 444.8h6.4" stroke="#0000ff" stroke-width="1.3" fill="none"/>
<path d="M518.85 434.88l-4.3 6.97h8.6z" stroke="#0000ff" stroke-width="1.3" fill="none"/>
<path d="M530.64 424.7V433.1M527.44 424.7h6.4M527.44 433.1h6.4" stroke="#0000ff" stroke-width="1.3" fill="none"/>
<path d="M530.64 424.08l-4.3 6.97h8.6z" stroke="#0000ff" stroke-width="1.3" fill="none"/>
<path d="M542.43 417.2V421M539.23 417.2h6.4M539.23 421h6.4" stroke="#0000ff" stroke-width="1.3" fill="none"/>
<path d="M542.43 414.28l-4.3 6.97h8.6z" stroke="#0000ff" stroke-width="1.3" fill="none"/>
<path d="M554.22 407.1V412.7M551.02 407.1h6.4M551.02 412.7h6.4" stroke="#0000ff" stroke-width="1.3" fill="none"/>
<path d="M554.22 405.08l-4.3 6.97h8.6z" stroke="#0000ff" stroke-width="1.3" fill="none"/>
<path d="M566.01 399.5V405.5M562.81 399.5h6.4M562.81 405.5h6.4" stroke="#0000ff" stroke-width="1.3" fill="none"/>
<path d="M566.01 397.68l-4.3 6.97h8.6z" stroke="#0000ff" stroke-width="1.3" fill="none"/>
<path d="M577.8 395.3V398.9M574.6 395.3h6.4M574.6 398.9h6.4" stroke="#0000ff" stroke-width="1.3" fill="none"/>
<path d="M577.8 392.28l-4.3 6.97h8.6z" stroke="#0000ff" stroke-width="1.3" fill="none"/>
<path d="M589.59 391.45V396.35M586.39 391.45h6.4M586.39 396.35h6.4" stroke="#0000ff" stroke-width="1.3" fill="none"/>
<path d="M589.59 389.08l-4.3 6.97h8.6z" stroke="#0000ff" stroke-width="1.3" fill="none"/>
<path d="M601.38 389.4V392.8M598.18 389.4h6.4M598.18 392.8h6.4" stroke="#0000ff" stroke-width="1.3" fill="none"/>
<path d="M601.38 386.28l-4.3 6.97h8.6z" stroke="#0000ff" stroke-width="1.3" fill="none"/>
<path d="M613.17 379.1V388.1M609.97 379.1h6.4M609.97 388.1h6.4" stroke="#0000ff" stroke-width="1.3" fill="none"/>
<path d="M613.17 378.78l-4.3 6.97h8.6z" stroke="#0000ff" stroke-width="1.3" fill="none"/>
<path d="M624.96 376.9V390.5M621.76 376.9h6.4M621.76 390.5h6.4" stroke="#0000ff" stroke-width="1.3" fill="none"/>
<path d="M624.96 378.88l-4.3 6.97h8.6z" stroke="#0000ff" stroke-width="1.3" fill="none"/>
<path d="M636.75 371.3V379.1M633.55 371.3h6.4M633.55 379.1h6.4" stroke="#0000ff" stroke-width="1.3" fill="none"/>
<path d="M636.75 370.38l-4.3 6.97h8.6z" stroke="#0000ff" stroke-width="1.3" fill="none"/>
<path d="M648.54 366.3V377.1M645.34 366.3h6.4M645.34 377.1h6.4" stroke="#0000ff" stroke-width="1.3" fill="none"/>
<path d="M648.54 366.88l-4.3 6.97h8.6z" stroke="#0000ff" stroke-width="1.3" fill="none"/>
<path d="M660.33 364.9V374.5M657.13 364.9h6.4M657.13 374.5h6.4" stroke="#0000ff" stroke-width="1.3" fill="none"/>
<path d="M660.33 364.88l-4.3 6.97h8.6z" stroke="#0000ff" stroke-width="1.3" fill="none"/>
<path d="M672.12 358.6V369.4M668.92 358.6h6.4M668.92 369.4h6.4" stroke="#0000ff" stroke-width="1.3" fill="none"/>
<path d="M672.12 359.18l-4.3 6.97h8.6z" stroke="#0000ff" stroke-width="1.3" fill="none"/>
<path d="M683.91 356.4V368.4M680.71 356.4h6.4M680.71 368.4h6.4" stroke="#0000ff" stroke-width="1.3" fill="none"/>
<path d="M683.91 357.58l-4.3 6.97h8.6z" stroke="#0000ff" stroke-width="1.3" fill="none"/>
<path d="M695.7 351.4V365.4M692.5 351.4h6.4M692.5 365.4h6.4" stroke="#0000ff" stroke-width="1.3" fill="none"/>
<path d="M695.7 353.58l-4.3 6.97h8.6z" stroke="#0000ff" stroke-width="1.3" fill="none"/>
<rect x="106.2" y="6.5" width="589.5" height="578" fill="none" stroke="#000" stroke-width="1.3"/>
<path d="M165.15 584.5v6.6M165.15 6.5v-6.6M283.05 584.5v6.6M283.05 6.5v-6.6M400.95 584.5v6.6M400.95 6.5v-6.6M518.85 584.5v6.6M518.85 6.5v-6.6M636.75 584.5v6.6M636.75 6.5v-6.6M106.2 546.35h-6.6M695.7 546.35h6.6M106.2 469.22h-6.6M695.7 469.22h6.6M106.2 392.09h-6.6M695.7 392.09h6.6M106.2 314.96h-6.6M695.7 314.96h6.6M106.2 237.83h-6.6M695.7 237.83h6.6M106.2 160.7h-6.6M695.7 160.7h6.6M106.2 83.57h-6.6M695.7 83.57h6.6" stroke="#000" stroke-width="1.3" fill="none"/>
<text transform="translate(168.35 624.95) scale(1 1.03)" font-size="25" text-anchor="middle">2</text>
<text transform="translate(286.25 624.95) scale(1 1.03)" font-size="25" text-anchor="middle">3</text>
<text transform="translate(404.15 624.95) scale(1 1.03)" font-size="25" text-anchor="middle">4</text>
<text transform="translate(522.05 624.95) scale(1 1.03)" font-size="25" text-anchor="middle">5</text>
<text transform="translate(639.95 624.95) scale(1 1.03)" font-size="25" text-anchor="middle">6</text>
<text transform="translate(84.9 555.6) scale(1 1.03)" font-size="25" text-anchor="end">0</text>
<text transform="translate(84.9 401.34) scale(1 1.03)" font-size="25" text-anchor="end">0.2</text>
<text transform="translate(84.9 247.08) scale(1 1.03)" font-size="25" text-anchor="end">0.4</text>
<text transform="translate(84.9 92.82) scale(1 1.03)" font-size="25" text-anchor="end">0.6</text>
<text transform="translate(27.8 295.3) rotate(-90) scale(1 1.03)" font-size="25" text-anchor="middle">CHARGE GAP (Ry)</text>
<text transform="translate(376.2 659.4) scale(1 1.03)" font-size="25" text-anchor="start">R/a<tspan font-size="18.5" dx="-0.6" dy="7.9">0</tspan></text>
<text transform="translate(606.9 39.7) scale(1 1.03)" font-size="25" text-anchor="end">N = 8</text>
<line x1="621.9" y1="31.8" x2="665.9" y2="31.8" stroke="#ff0000" stroke-width="1.3"/>
<path d="M639.2 31.8h9.2M643.8 27.2v9.2M639.2 27.2l9.2 9.2M639.2 36.4l9.2 -9.2" stroke="#ff0000" stroke-width="1.3" fill="none"/>
<text transform="translate(606.9 77.1) scale(1 1.03)" font-size="25" text-anchor="end">12</text>
<line x1="621.9" y1="69.2" x2="665.9" y2="69.2" stroke="#ffa500" stroke-width="1.3"/>
<circle cx="643.8" cy="69.2" r="4.5" stroke="#ffa500" stroke-width="1.3" fill="none"/>
<text transform="translate(606.9 114.5) scale(1 1.03)" font-size="25" text-anchor="end">16</text>
<line x1="621.9" y1="106.6" x2="665.9" y2="106.6" stroke="#00ff00" stroke-width="1.3"/>
<circle cx="643.8" cy="106.6" r="4.1" fill="#00ff00"/>
<text transform="translate(606.9 151.9) scale(1 1.03)" font-size="25" text-anchor="end">20</text>
<line x1="621.9" y1="144" x2="665.9" y2="144" stroke="#00ffff" stroke-width="1.3"/>
<path d="M643.8 139.7l4.3 4.3l-4.3 4.3l-4.3 -4.3z" stroke="#00ffff" stroke-width="1.3" fill="none"/>
<text transform="translate(606.9 189.3) scale(1 1.03)" font-size="25" text-anchor="end">1/N-scaling</text>
<line x1="621.9" y1="181.4" x2="665.9" y2="181.4" stroke="#0000ff" stroke-width="1.3"/>
<path d="M621.9 178.2v6.4M665.9 178.2v6.4" stroke="#0000ff" stroke-width="1.3"/>
<path d="M643.8 176.58l-4.3 6.97h8.6z" stroke="#0000ff" stroke-width="1.3" fill="none"/>
</svg>
</body></html>
